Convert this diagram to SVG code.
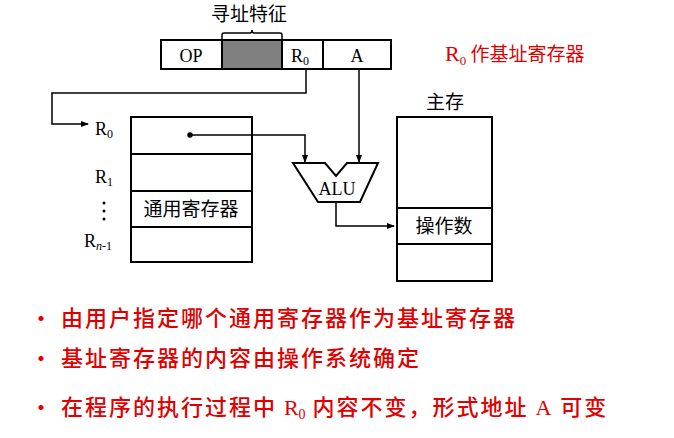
<svg xmlns="http://www.w3.org/2000/svg" width="674" height="438" viewBox="0 0 674 438">
<style>
.b{fill:none;stroke:#000;stroke-width:2}
.t{font-family:"Liberation Serif",serif;font-size:18px;fill:#000}
.c{font-family:"Noto Sans CJK SC",sans-serif;font-size:19px;fill:#000}
.r{font-family:"Noto Sans CJK SC",sans-serif;font-size:22px;font-weight:500;letter-spacing:2px;fill:#e00000}
.rs{font-family:"Liberation Serif",serif;font-size:22px;fill:#e00000}
</style>
<defs><marker id="a" markerWidth="8" markerHeight="8" refX="7" refY="4" orient="auto" markerUnits="userSpaceOnUse"><path d="M0,1 L8,4 L0,7Z" fill="#000"/></marker></defs>
<rect width="674" height="438" fill="#fff"/>
<g id="instr">
<rect x="222" y="40" width="60" height="29" fill="#808080"/>
<rect class="b" x="161" y="40" width="230" height="29"/>
<path class="b" d="M222,40V69M282,40V69M323,40V69"/>
<text class="t" x="191" y="62" text-anchor="middle">OP</text>
<text class="t" x="300" y="62" text-anchor="middle">R<tspan font-size="12" dy="3">0</tspan></text>
<text class="t" x="357" y="62" text-anchor="middle">A</text>
<path d="M222,39V35Q222,33 224,33H250Q252,33 252,30Q252,33 254,33H280Q282,33 282,35V39" fill="none" stroke="#000" stroke-width="1.5"/>
<text class="c" x="249" y="21" text-anchor="middle">寻址特征</text>
</g>
<g id="note"><text class="rs" x="445" y="61" font-size="19">R<tspan font-size="13" dy="4">0</tspan><tspan dy="-4" font-family="Noto Sans CJK SC,sans-serif" font-size="19"> 作基址寄存器</tspan></text></g>
<g id="regs">
<rect class="b" x="131" y="117" width="121" height="145"/>
<path class="b" d="M131,154H252M131,191H252M131,227H252"/>
<text class="c" x="191" y="216" text-anchor="middle">通用寄存器</text>
<text class="t" x="95" y="135">R<tspan font-size="12" dy="3">0</tspan></text>
<text class="t" x="95" y="183">R<tspan font-size="12" dy="3">1</tspan></text>
<circle cx="104" cy="203" r="1.5"/><circle cx="104" cy="211" r="1.5"/><circle cx="104" cy="219" r="1.5"/>
<text class="t" x="84" y="247">R<tspan font-size="12" dy="3" font-style="italic">n</tspan><tspan font-size="12">-1</tspan></text>
</g>
<g id="alu">
<path class="b" d="M293,163H325L336,176L347,163H378L360,202H318Z" fill="#fff"/>
<text class="t" x="337" y="195" text-anchor="middle">ALU</text>
</g>
<g id="mem">
<rect class="b" x="397" y="117" width="95" height="164"/>
<path class="b" d="M397,208H492M397,244H492"/>
<text class="c" x="444" y="233" text-anchor="middle">操作数</text>
<text class="c" x="445" y="109" text-anchor="middle">主存</text>
</g>
<g id="conn" fill="none" stroke="#000" stroke-width="1.5">
<path d="M306,69V93H52V124H88" marker-end="url(#a)"/>
<circle cx="190" cy="135" r="2" fill="#000"/>
<path d="M190,135H305V162" marker-end="url(#a)"/>
<path d="M359,69V162" marker-end="url(#a)"/>
<path d="M336,202V226H394" marker-end="url(#a)"/>
</g>
<g id="bullets">
<text class="r" x="30" y="326">• 由用户指定哪个通用寄存器作为基址寄存器</text>
<text class="r" x="30" y="366">• 基址寄存器的内容由操作系统确定</text>
<text class="r" x="30" y="415">• 在程序的执行过程中 <tspan class="rs" letter-spacing="0">R<tspan font-size="14" dy="4">0</tspan></tspan><tspan dy="-4"> 内容不变，形式地址 </tspan><tspan class="rs">A</tspan> 可变</text>
</g>
</svg>
